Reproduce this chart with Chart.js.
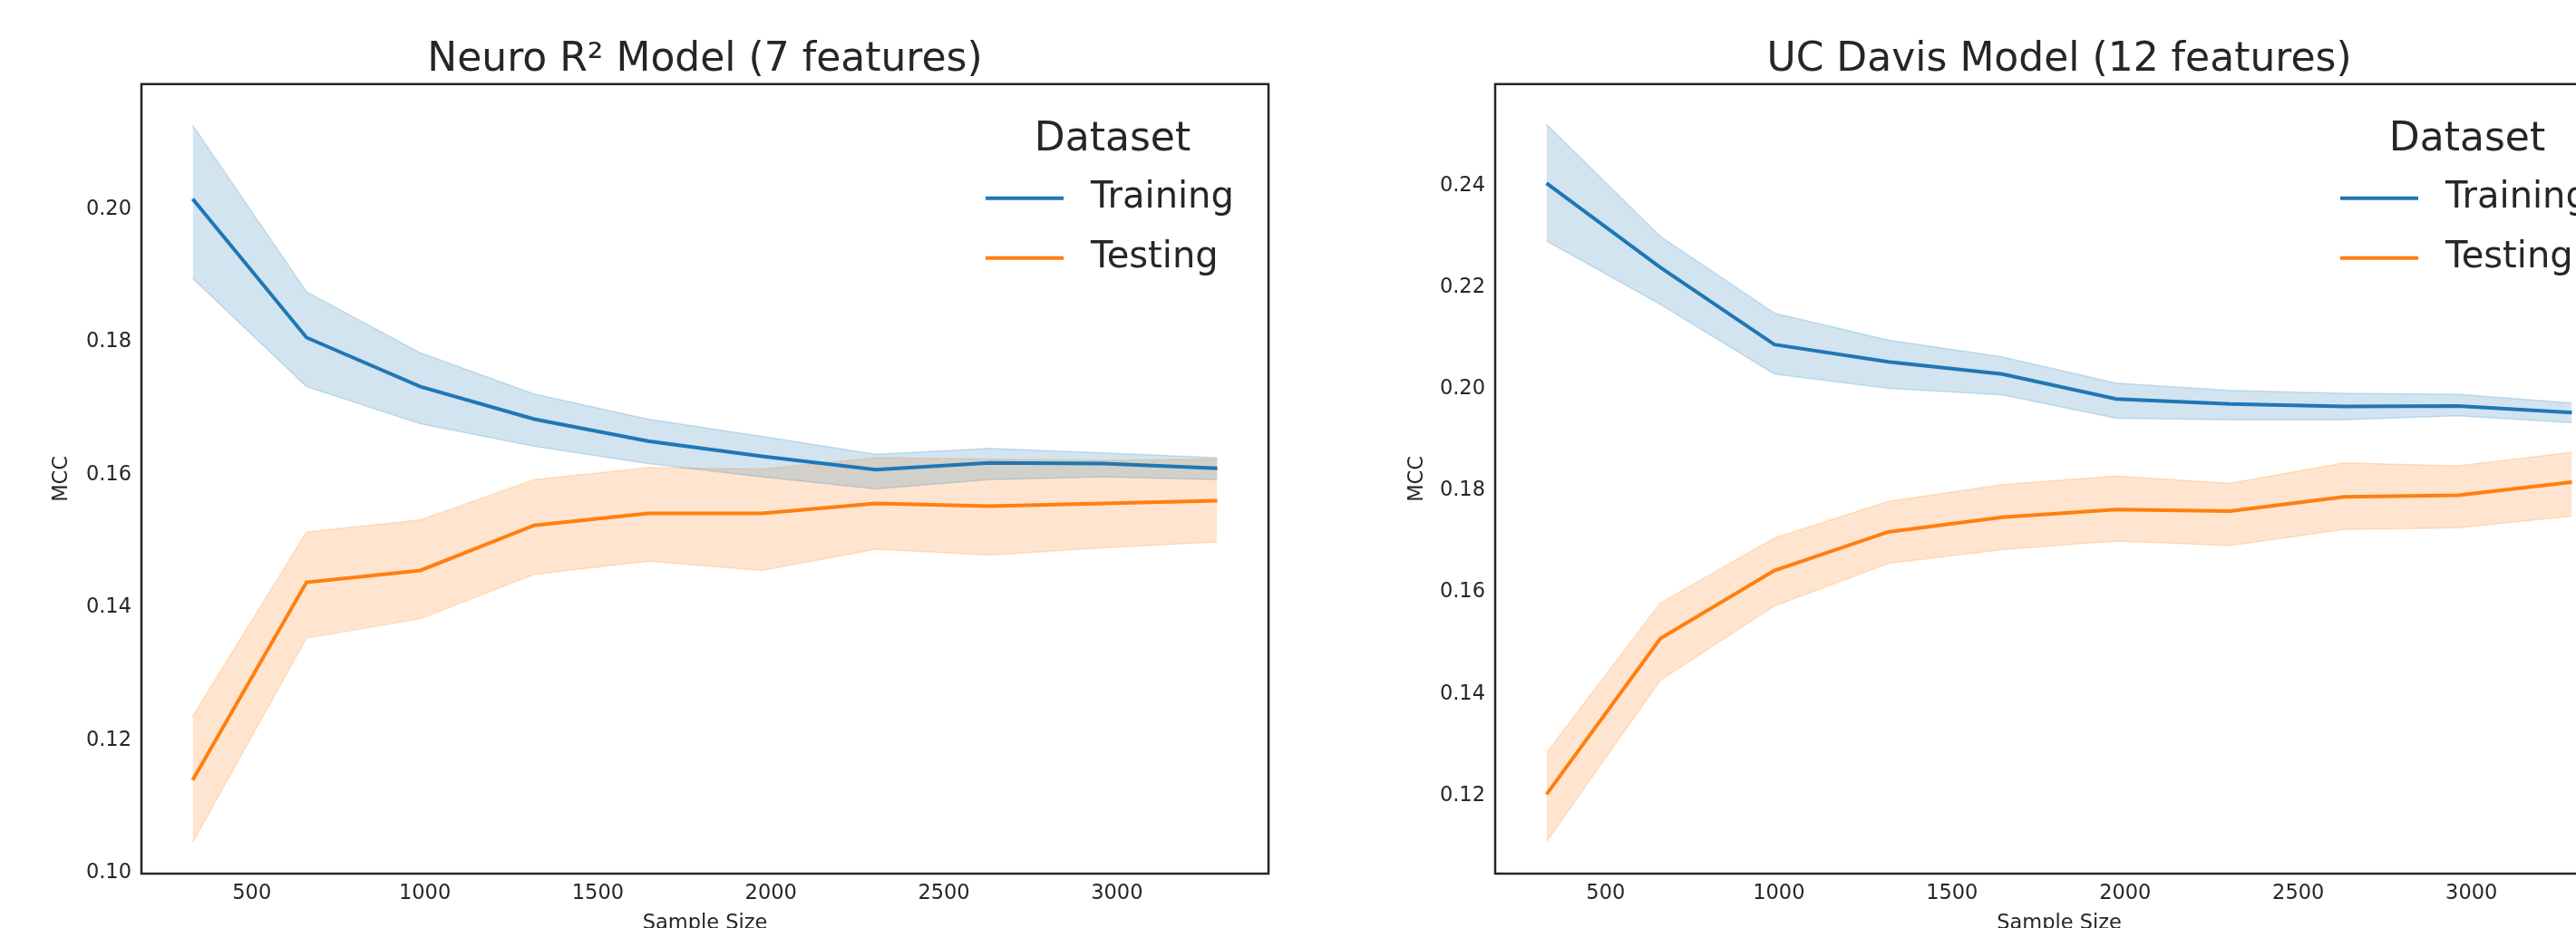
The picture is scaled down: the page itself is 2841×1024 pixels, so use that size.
<!DOCTYPE html>
<html>
<head>
<meta charset="utf-8">
<script src="https://cdn.jsdelivr.net/npm/chart.js@4/dist/chart.umd.min.js"></script>
<style>
  html, body { margin: 0; padding: 0; background: #fff; width: 2841px; height: 1024px; overflow: hidden; }
  .panel { position: absolute; top: 0; }
</style>
</head>
<body>
<div class="panel" style="left:0"><canvas id="neuro" width="1420" height="1048"></canvas></div>
<div class="panel" style="left:1420px"><canvas id="davis" width="1500" height="1048"></canvas></div>
<script>
// sample sizes along the x axis
const sampleSizes = [329, 658, 987, 1316, 1645, 1974, 2303, 2632, 2961, 3290];
const xTicks = [500, 1000, 1500, 2000, 2500, 3000];

// Neuro R^2 model (7 features)
const neuroTrain   = [0.2016, 0.1807, 0.1733, 0.1684, 0.1651, 0.1628, 0.1608, 0.1618, 0.1617, 0.1610];
const neuroTrainHi = [0.2127, 0.1876, 0.1784, 0.1722, 0.1684, 0.1658, 0.1631, 0.1640, 0.1633, 0.1626];
const neuroTrainLo = [0.1896, 0.1733, 0.1677, 0.1643, 0.1617, 0.1597, 0.1579, 0.1593, 0.1597, 0.1593];
const neuroTest    = [0.1140, 0.1438, 0.1456, 0.1524, 0.1542, 0.1542, 0.1557, 0.1553, 0.1557, 0.1561];
const neuroTestHi  = [0.1236, 0.1514, 0.1532, 0.1593, 0.1611, 0.1609, 0.1626, 0.1624, 0.1622, 0.1624];
const neuroTestLo  = [0.1046, 0.1354, 0.1383, 0.1450, 0.1470, 0.1456, 0.1488, 0.1479, 0.1490, 0.1499];
const neuroYTicks  = [0.10, 0.12, 0.14, 0.16, 0.18, 0.20];

// UC Davis model (12 features)
const davisTrain   = [0.2406, 0.2240, 0.2088, 0.2054, 0.2030, 0.1981, 0.1971, 0.1966, 0.1967, 0.1954];
const davisTrainHi = [0.2522, 0.2301, 0.2150, 0.2097, 0.2064, 0.2012, 0.1998, 0.1992, 0.1990, 0.1973];
const davisTrainLo = [0.2292, 0.2167, 0.2030, 0.2002, 0.1989, 0.1943, 0.1940, 0.1940, 0.1948, 0.1934];
const davisTest    = [0.1202, 0.1509, 0.1643, 0.1719, 0.1748, 0.1763, 0.1760, 0.1788, 0.1791, 0.1817];
const davisTestHi  = [0.1284, 0.1579, 0.1707, 0.1779, 0.1812, 0.1829, 0.1815, 0.1855, 0.1849, 0.1876];
const davisTestLo  = [0.1109, 0.1427, 0.1573, 0.1657, 0.1684, 0.1701, 0.1692, 0.1724, 0.1727, 0.1750];
const davisYTicks  = [0.12, 0.14, 0.16, 0.18, 0.20, 0.22, 0.24];

const seriesNames = ['Training', 'Testing'];
const legendTitle = 'Dataset';

const FONT = '"DejaVu Sans", sans-serif';
const TEXT = '#262626';
const BLUE = '#1f77b4', ORANGE = '#ff7f0e';
const BLUE_BAND = 'rgba(31,119,180,0.2)', ORANGE_BAND = 'rgba(255,127,14,0.2)';

Chart.defaults.font.family = FONT;
Chart.defaults.color = TEXT;

const pts = arr => arr.map((v, i) => ({x: sampleSizes[i], y: v}));

function bandSets(name, hi, lo, mean, color, band) {
  return [
    {label: name + ' hi', data: pts(hi), borderColor: band, backgroundColor: band, borderWidth: 1.5, fill: '+1', pointRadius: 0},
    {label: name + ' lo', data: pts(lo), borderColor: band, borderWidth: 1.5, fill: false, pointRadius: 0},
    {label: name, data: pts(mean), borderColor: color, borderWidth: 4, fill: false, pointRadius: 0, inLegend: true}
  ];
}

// axes frame + legend inside the top right corner
const frameLegend = {
  id: 'frameLegend',
  afterDatasetsDraw(chart) {
    const {ctx, chartArea: a} = chart;
    ctx.save();
    ctx.strokeStyle = TEXT;
    ctx.lineWidth = 2.5;
    ctx.strokeRect(a.left, a.top, a.right - a.left, a.bottom - a.top);

    ctx.fillStyle = TEXT;
    ctx.textBaseline = 'middle';
    ctx.textAlign = 'center';
    ctx.font = '44px ' + FONT;
    ctx.fillText(legendTitle, a.right - 172, a.top + 62);

    ctx.textAlign = 'left';
    ctx.font = '40px ' + FONT;
    chart.data.datasets.filter(d => d.inLegend).forEach((d, i) => {
      const y = a.top + 126 + i * 66;
      ctx.strokeStyle = d.borderColor;
      ctx.lineWidth = 4;
      ctx.beginPath();
      ctx.moveTo(a.right - 312, y);
      ctx.lineTo(a.right - 226, y);
      ctx.stroke();
      ctx.fillText(d.label, a.right - 196, y);
    });
    ctx.restore();
  }
};

function makeChart(id, title, sets, yMin, yMax, yTicks, yWidth, mccPad, rightPad) {
  const canvas = document.getElementById(id);
  const H = canvas.height;
  return new Chart(canvas, {
    type: 'line',
    data: {datasets: sets},
    plugins: [frameLegend],
    options: {
      responsive: false,
      animation: false,
      layout: {padding: {left: 0, right: rightPad, top: 0, bottom: 0}},
      plugins: {
        legend: {display: false},
        tooltip: {enabled: false},
        filler: {drawTime: 'beforeDatasetsDraw'},
        title: {
          display: true, text: title, fullSize: false, color: TEXT,
          font: {size: 44, weight: 'normal'}, padding: {top: 40, bottom: 0}
        }
      },
      scales: {
        x: {
          type: 'linear', min: 181, max: 3438,
          afterBuildTicks: s => { s.ticks = xTicks.map(v => ({value: v})); },
          afterFit: s => { s.height = H - 964; },
          grid: {display: false, drawTicks: false},
          border: {display: false},
          ticks: {padding: 9, maxRotation: 0, color: TEXT, font: {size: 22.5}, callback: v => String(v)},
          title: {display: true, text: 'Sample Size', color: TEXT, font: {size: 22.5}, padding: {top: 0, bottom: 15}}
        },
        y: {
          type: 'linear', min: yMin, max: yMax,
          afterBuildTicks: s => { s.ticks = yTicks.map(v => ({value: v})); },
          afterFit: s => { s.width = yWidth; },
          grid: {display: false, drawTicks: false},
          border: {display: false},
          ticks: {padding: 11, color: TEXT, font: {size: 22.5}, callback: v => v.toFixed(2)},
          title: {display: true, text: 'MCC', color: TEXT, font: {size: 22.5}, padding: {top: mccPad, bottom: 0}}
        }
      }
    }
  });
}

makeChart('neuro', 'Neuro R\u00b2 Model (7 features)',
  [...bandSets(seriesNames[0], neuroTrainHi, neuroTrainLo, neuroTrain, BLUE, BLUE_BAND),
   ...bandSets(seriesNames[1], neuroTestHi, neuroTestLo, neuroTest, ORANGE, ORANGE_BAND)],
  0.0999, 0.2189, neuroYTicks, 156, 54.5, 21);

makeChart('davis', 'UC Davis Model (12 features)',
  [...bandSets(seriesNames[0], davisTrainHi, davisTrainLo, davisTrain, BLUE, BLUE_BAND),
   ...bandSets(seriesNames[1], davisTestHi, davisTestLo, davisTest, ORANGE, ORANGE_BAND)],
  0.1046, 0.2601, davisYTicks, 229, 129.5, 27);
</script>
</body>
</html>
